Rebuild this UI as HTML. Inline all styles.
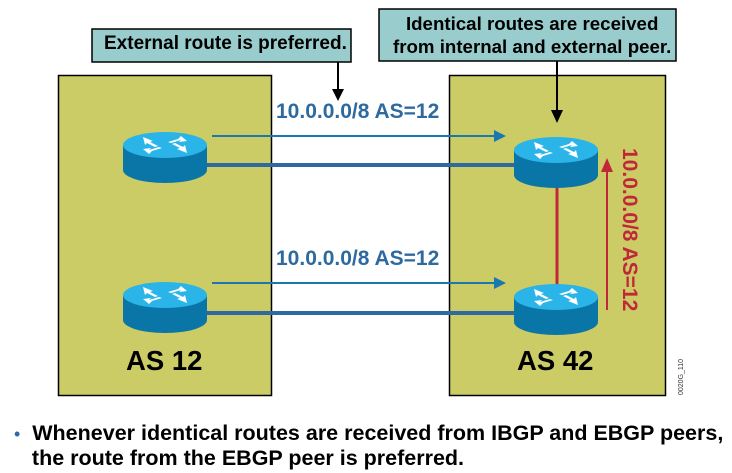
<!DOCTYPE html>
<html><head><style>
body{margin:0;width:732px;height:473px;background:#fff;overflow:hidden;position:relative;font-family:"Liberation Sans",sans-serif}
.t{position:absolute;font-weight:bold;white-space:nowrap}
</style></head><body>
<svg width="732" height="473" style="position:absolute;left:0;top:0">
<defs>
<g id="r">
<path d="M-42,0 v25 a42,13 0 0 0 84,0 v-25z" fill="#0a76a8"/>
<ellipse cx="0" cy="0" rx="42" ry="13" fill="#2ab4e8"/>
<g fill="#fff"><path d="M-22,-8 l10,4 l-3,1 l8,4 l-3,1 l-8,-4 l-2,2z"/><path d="M22,8 l-10,-4 l3,-1 l-8,-4 l3,-1 l8,4 l2,-2z"/><path d="M16,-9 l6,5 l-8,1 l2,-2 l-10,3 l-3,-1 l10,-3z"/><path d="M-16,9 l-6,-5 l8,-1 l-2,2 l10,-3 l3,1 l-10,3z"/></g>
</g>
</defs>
<rect x="58.5" y="75.5" width="213" height="320" fill="#cccc66" stroke="#000" stroke-width="1.5"/>
<rect x="449.5" y="75.5" width="216" height="320" fill="#cccc66" stroke="#000" stroke-width="1.5"/>
<rect x="92" y="29" width="259" height="33" fill="#99cccc" stroke="#000" stroke-width="1.5"/>
<rect x="379" y="9" width="297" height="52" fill="#99cccc" stroke="#000" stroke-width="1.5"/>
<line x1="338" y1="62" x2="338" y2="92" stroke="#000" stroke-width="2"/><path d="M332,89L344,89L338,101z"/>
<line x1="557" y1="61" x2="557" y2="113" stroke="#000" stroke-width="2"/><path d="M551,110L563,110L557,123z"/>
<line x1="212" y1="136" x2="496" y2="136" stroke="#1a78b0" stroke-width="2"/><path d="M494,130L506,136L494,142z" fill="#1a78b0"/>
<line x1="205" y1="165" x2="515" y2="165" stroke="#2e6aa0" stroke-width="4"/>
<line x1="212" y1="283" x2="496" y2="283" stroke="#1a78b0" stroke-width="2"/><path d="M494,277L506,283L494,289z" fill="#1a78b0"/>
<line x1="205" y1="313" x2="515" y2="313" stroke="#2e6aa0" stroke-width="4"/>
<line x1="557" y1="180" x2="557" y2="290" stroke="#c0283a" stroke-width="3"/>
<line x1="607" y1="310" x2="607" y2="170" stroke="#c0283a" stroke-width="2"/><path d="M601,172L607,158L613,172z" fill="#c0283a"/>
<use href="#r" x="165" y="145"/><use href="#r" x="556" y="150"/>
<use href="#r" x="165" y="295"/><use href="#r" x="556" y="297"/>
<text x="623" y="148" transform="rotate(90 623 148)" font-family="Liberation Sans" font-weight="bold" font-size="21" fill="#c0283a">10.0.0.0/8 AS=12</text>
<text x="683" y="395" transform="rotate(-90 683 395)" font-family="Liberation Sans" font-size="7" fill="#333">0020G_110</text>
</svg>
<div class="t" style="left:104px;top:33px;font-size:19px">External route is preferred.</div>
<div class="t" style="left:393px;top:12px;font-size:18.7px;text-align:center;line-height:23px">Identical routes are received<br>from internal and external peer.</div>
<div class="t" style="left:276px;top:100px;font-size:21px;color:#2e6aa0">10.0.0.0/8 AS=12</div>
<div class="t" style="left:276px;top:247px;font-size:21px;color:#2e6aa0">10.0.0.0/8 AS=12</div>
<div class="t" style="left:126px;top:345px;font-size:27.5px">AS 12</div>
<div class="t" style="left:517px;top:345px;font-size:27.5px">AS 42</div>
<div class="t" style="left:14px;top:421px;font-size:21.5px;line-height:24px"><span style="color:#2e6aa0;font-weight:normal;font-size:18px">•</span>&nbsp; Whenever identical routes are received from IBGP and EBGP peers,<br>&nbsp;&nbsp;&nbsp;the route from the EBGP peer is preferred.</div>
</body></html>
